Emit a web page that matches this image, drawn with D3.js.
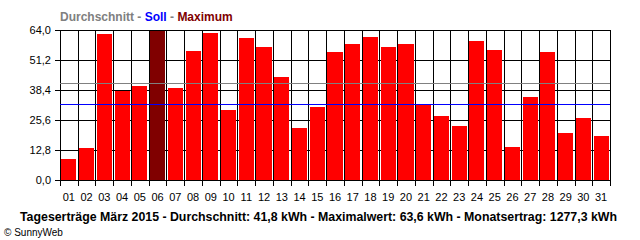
<!DOCTYPE html>
<html>
<head>
<meta charset="utf-8">
<script src="https://cdn.jsdelivr.net/npm/d3@7"></script>
<style>
  body { margin: 0; background: #fff; }
  svg { display: block; }
  text { font-family: "Liberation Sans", Arial, sans-serif; }
</style>
</head>
<body>
<div id="chart"></div>
<script>
'use strict'

const days = ['01', '02', '03', '04', '05', '06', '07', '08', '09', '10', '11', '12', '13', '14', '15', '16',
	'17', '18', '19', '20', '21', '22', '23', '24', '25', '26', '27', '28', '29', '30', '31']
const yields = [9.0, 13.6, 62.2, 38.0, 40.0, 63.6, 39.1, 54.9, 62.6, 29.8, 60.5, 56.6, 43.8, 22.1, 31.0, 54.5,
	57.9, 60.9, 56.6, 57.9, 32.1, 27.2, 22.9, 59.2, 55.4, 14.0, 35.3, 54.5, 19.9, 26.4, 18.7]
const yTicks = [0, 12.8, 25.6, 38.4, 51.2, 64.0]
const averageValue = 41.2
const targetValue = 32.3
const maxDay = '06'
const legendItems = [
	{ label: 'Durchschnitt', color: '#808080' },
	{ label: ' - ', color: '#808080' },
	{ label: 'Soll', color: '#0000ff' },
	{ label: ' - ', color: '#808080' },
	{ label: 'Maximum', color: '#800000' }
]
const footer = 'Tageserträge März 2015 - Durchschnitt: 41,8 kWh - Maximalwert: 63,6 kWh - Monatsertrag: 1277,3 kWh'

const width = 640,
	height = 240
const plotLeft = 60, plotRight = 610, plotTop = 30, plotBottom = 180

const svg = d3.select('#chart').append('svg')
	.attr('width', width)
	.attr('height', height)

const x = d3.scaleBand()
	.domain(days)
	.range([plotLeft, plotRight])
	.paddingInner(0.15)
	.paddingOuter(0.075)

const y = d3.scaleLinear()
	.domain([0, 64])
	.range([plotBottom, plotTop])

const step = x.step()
const boundaries = d3.range(days.length + 1).map((i) => plotLeft + i * step)

// grid
const grid = svg.append('g').attr('shape-rendering', 'crispEdges')
grid.selectAll('.hgrid')
	.data(yTicks)
	.enter().append('line')
		.attr('x1', plotLeft - 5)
		.attr('x2', plotRight)
		.attr('y1', (d) => Math.round(y(d)) + 0.5)
		.attr('y2', (d) => Math.round(y(d)) + 0.5)
		.attr('stroke', '#000')

grid.selectAll('.vgrid')
	.data(boundaries)
	.enter().append('line')
		.attr('x1', (d) => Math.round(d) + 0.5)
		.attr('x2', (d) => Math.round(d) + 0.5)
		.attr('y1', plotTop)
		.attr('y2', plotBottom + 6)
		.attr('stroke', '#000')

// bars
svg.append('g')
	.selectAll('rect')
	.data(days)
	.enter().append('rect')
		.attr('x', (d) => x(d))
		.attr('width', x.bandwidth())
		.attr('y', (d, i) => y(yields[i]))
		.attr('height', (d, i) => y(0) - y(yields[i]))
		.attr('fill', (d) => d === maxDay ? '#800000' : '#ff0000')
		.attr('shape-rendering', 'crispEdges')

// bottom axis line over bars
svg.append('line')
	.attr('x1', plotLeft - 5).attr('x2', plotRight + 1)
	.attr('y1', plotBottom + 0.5).attr('y2', plotBottom + 0.5)
	.attr('stroke', '#000')
	.attr('shape-rendering', 'crispEdges')

// average + target lines
const refLines = [
	{ value: averageValue, color: '#808080' },
	{ value: targetValue, color: '#0000ff' }
]
svg.append('g')
	.selectAll('line')
	.data(refLines)
	.enter().append('line')
		.attr('x1', plotLeft)
		.attr('x2', plotRight)
		.attr('y1', (d) => Math.round(y(d.value)) + 0.5)
		.attr('y2', (d) => Math.round(y(d.value)) + 0.5)
		.attr('stroke', (d) => d.color)
		.attr('stroke-width', 1.3)
		.attr('shape-rendering', 'crispEdges')

// y labels
svg.append('g')
	.selectAll('text')
	.data(yTicks)
	.enter().append('text')
		.attr('x', 51)
		.attr('y', (d) => y(d))
		.attr('dy', '0.35em')
		.attr('text-anchor', 'end')
		.attr('font-size', 11)
		.text((d) => d.toFixed(1).replace('.', ','))

// x labels
svg.append('g')
	.selectAll('text')
	.data(days)
	.enter().append('text')
		.attr('x', (d) => x(d) + x.bandwidth() / 2)
		.attr('y', 201)
		.attr('text-anchor', 'middle')
		.attr('font-size', 11)
		.text((d) => d)

// legend, one text per piece laid out left to right
let legendX = 60
legendItems.forEach((item) => {
	const t = svg.append('text')
		.attr('x', legendX)
		.attr('y', 21)
		.attr('font-size', 12)
		.attr('font-weight', 'bold')
		.attr('fill', item.color)
		.attr('xml:space', 'preserve')
		.style('white-space', 'pre')
		.text(item.label)
	legendX += t.node().getComputedTextLength()
})

// footer
svg.append('text')
	.attr('x', 20)
	.attr('y', 221)
	.attr('font-size', 12)
	.attr('font-weight', 'bold')
	.attr('textLength', 597)
	.attr('lengthAdjust', 'spacingAndGlyphs')
	.text(footer)

svg.append('text')
	.attr('x', 4)
	.attr('y', 236)
	.attr('font-size', 10)
	.text('© SunnyWeb')
</script>
</body>
</html>
